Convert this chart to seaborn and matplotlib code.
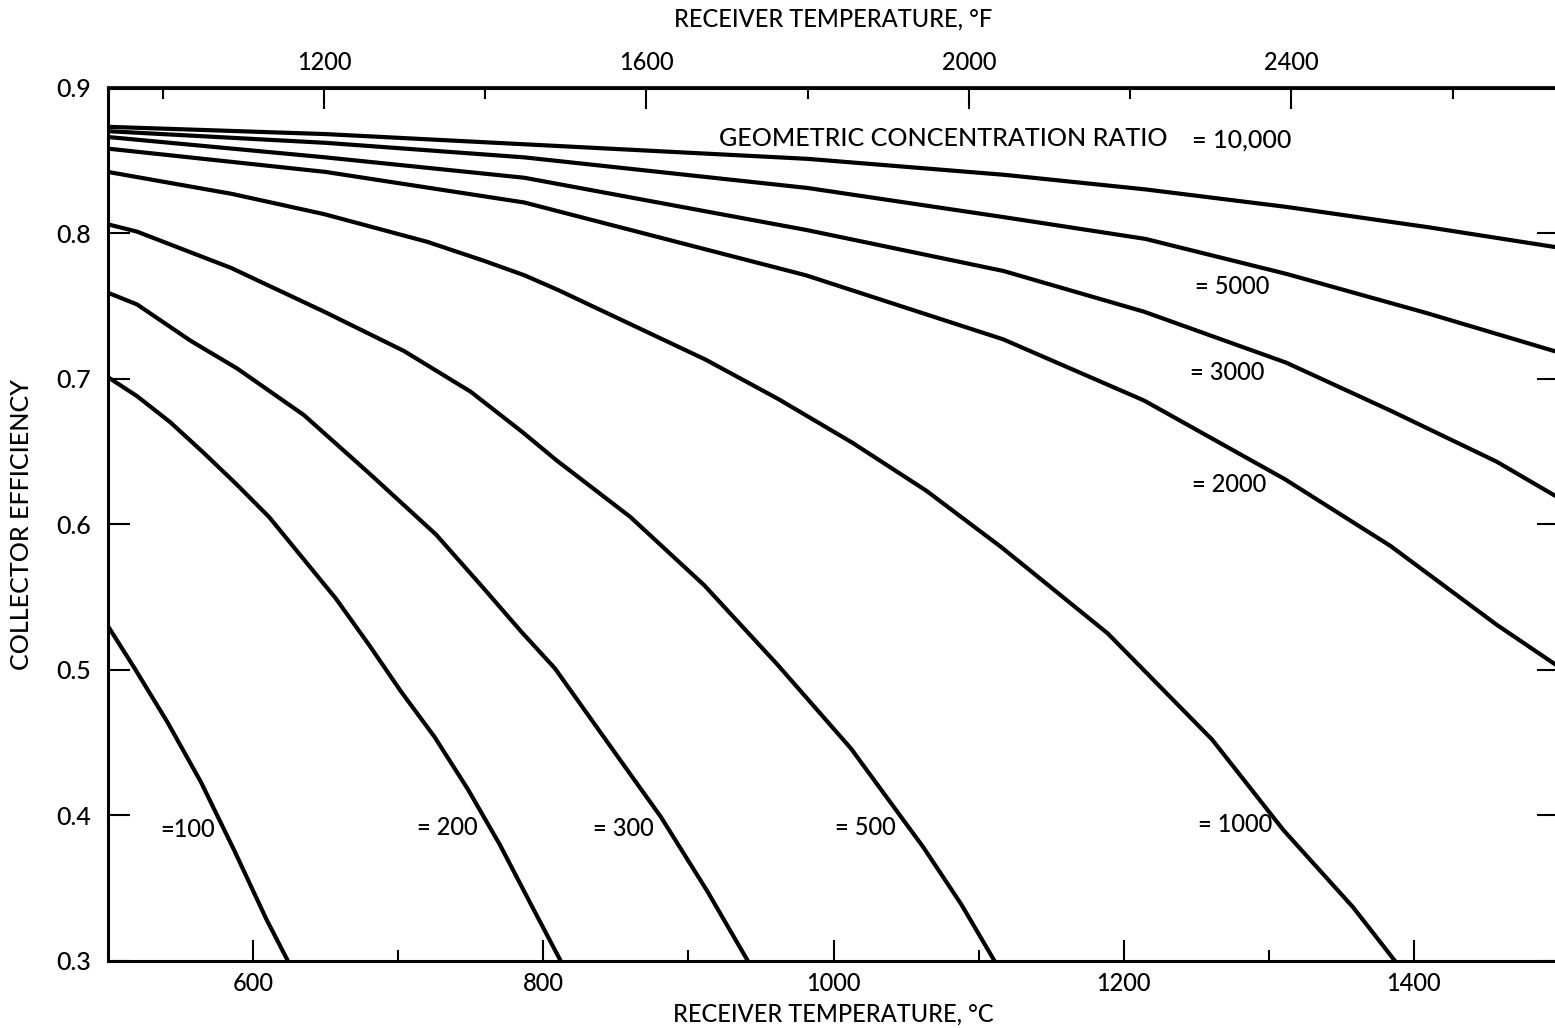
import matplotlib
matplotlib.use("Agg")
import matplotlib.pyplot as plt
from matplotlib.ticker import FixedLocator, NullFormatter
import pandas as pd
import seaborn as sns

# Collector efficiency against receiver temperature (deg C),
# one curve per geometric concentration ratio.
ratio_names = ["10000", "5000", "3000", "2000", "1000", "500", "300", "200", "100"]
ratio_labels = ["= 10,000", "= 5000", "= 3000", "= 2000", "= 1000",
                "= 500", "= 300", "= 200", "=100"]

temp_10000 = [500, 650, 787, 982, 1118, 1215, 1312, 1410, 1500]
eff_10000 = [0.873, 0.868, 0.861, 0.851, 0.840, 0.830, 0.818, 0.804, 0.790]

temp_5000 = [500, 650, 787, 982, 1117, 1215, 1312, 1409, 1500]
eff_5000 = [0.870, 0.862, 0.852, 0.831, 0.811, 0.796, 0.772, 0.745, 0.718]

temp_3000 = [500, 650, 787, 982, 1117, 1214, 1312, 1384, 1457, 1500]
eff_3000 = [0.866, 0.852, 0.838, 0.802, 0.774, 0.746, 0.711, 0.678, 0.643, 0.618]

temp_2000 = [500, 650, 787, 981, 1117, 1214, 1311, 1384, 1457, 1500]
eff_2000 = [0.858, 0.842, 0.821, 0.771, 0.727, 0.685, 0.631, 0.585, 0.531, 0.502]

temp_1000 = [500, 585, 649, 720, 759, 787, 810, 861, 912, 962, 1013, 1064, 1116,
             1189, 1261, 1310, 1358, 1387]
eff_1000 = [0.842, 0.827, 0.813, 0.794, 0.781, 0.771, 0.761, 0.737, 0.713, 0.686,
            0.656, 0.623, 0.584, 0.525, 0.452, 0.390, 0.337, 0.300]

temp_500 = [500, 520, 585, 649, 704, 750, 786, 809, 860, 911, 961, 1012, 1062,
            1088, 1111]
eff_500 = [0.806, 0.801, 0.776, 0.746, 0.719, 0.691, 0.663, 0.644, 0.605, 0.558,
           0.504, 0.446, 0.378, 0.339, 0.300]

temp_300 = [500, 520, 557, 589, 635, 680, 726, 758, 785, 808, 853, 881, 913, 941]
eff_300 = [0.759, 0.751, 0.726, 0.707, 0.675, 0.635, 0.593, 0.557, 0.526, 0.501,
           0.438, 0.399, 0.348, 0.300]

temp_200 = [500, 520, 543, 566, 588, 611, 634, 657, 680, 702, 725, 748, 770, 793, 812]
eff_200 = [0.701, 0.688, 0.670, 0.649, 0.628, 0.605, 0.577, 0.549, 0.517, 0.485,
           0.454, 0.418, 0.380, 0.336, 0.300]

temp_100 = [500, 519, 541, 564, 587, 609, 624]
eff_100 = [0.530, 0.500, 0.464, 0.423, 0.376, 0.329, 0.300]

curve_temps = [temp_10000, temp_5000, temp_3000, temp_2000, temp_1000,
               temp_500, temp_300, temp_200, temp_100]
curve_effs = [eff_10000, eff_5000, eff_3000, eff_2000, eff_1000,
              eff_500, eff_300, eff_200, eff_100]

# Axis ticks
eff_ticks = [0.3, 0.4, 0.5, 0.6, 0.7, 0.8, 0.9]
eff_tick_labels = ["0.3", "0.4", "0.5", "0.6", "0.7", "0.8", "0.9"]
degc_major = [600, 800, 1000, 1200, 1400]
degc_minor = [700, 900, 1100, 1300]
degf_major = [1200, 1600, 2000, 2400]
degf_minor = [1000, 1400, 1800, 2200, 2600]

rows = []
for name, t, e in zip(ratio_names, curve_temps, curve_effs):
    for ti, ei in zip(t, e):
        rows.append({"ratio": name, "temp": ti, "eff": ei})
df = pd.DataFrame(rows)

sns.set_style("ticks")
plt.rcParams["font.family"] = ["Lato", "DejaVu Sans"]
plt.rcParams["font.weight"] = "medium"
plt.rcParams["text.color"] = "black"
plt.rcParams["axes.labelcolor"] = "black"
plt.rcParams["axes.labelweight"] = "medium"
plt.rcParams["xtick.color"] = "black"
plt.rcParams["ytick.color"] = "black"

fig = plt.figure(figsize=(15.55, 10.28), dpi=100)
ax = fig.add_axes([108 / 1555, 67 / 1028, 1451 / 1555, 873.5 / 1028])

sns.lineplot(data=df, x="temp", y="eff", hue="ratio", hue_order=ratio_names,
             palette={n: "black" for n in ratio_names}, estimator=None,
             sort=False, legend=False, linewidth=3.0, ax=ax)
for line in ax.get_lines():
    line.set_solid_joinstyle("round")
    line.set_solid_capstyle("round")

ax.set_xlim(500, 1500)
ax.set_ylim(0.3, 0.9)

for side in ["left", "right", "top", "bottom"]:
    ax.spines[side].set_visible(True)
    ax.spines[side].set_linewidth(2.2)
    ax.spines[side].set_color("black")

# Bottom (deg C) ticks
ax.xaxis.set_major_locator(FixedLocator(degc_major))
ax.xaxis.set_minor_locator(FixedLocator(degc_minor))
ax.xaxis.set_minor_formatter(NullFormatter())
ax.tick_params(axis="x", which="major", direction="in", length=15, width=1.5,
               labelsize=17, pad=8, top=False)
ax.tick_params(axis="x", which="minor", direction="in", length=8, width=1.5,
               top=False)

# Efficiency ticks on both sides
ax.set_yticks(eff_ticks)
ax.set_yticklabels(eff_tick_labels)
ax.tick_params(axis="y", which="major", direction="in", length=16, width=1.5,
               labelsize=18, pad=12, right=True, left=True)

ax.set_xlabel("RECEIVER TEMPERATURE, °C", fontsize=17, labelpad=5)
ax.set_ylabel("COLLECTOR EFFICIENCY", fontsize=18, labelpad=17)

# Top (deg F) axis
secax = ax.secondary_xaxis("top", functions=(lambda c: c * 9 / 5 + 32,
                                              lambda f: (f - 32) * 5 / 9))
secax.xaxis.set_major_locator(FixedLocator(degf_major))
secax.xaxis.set_minor_locator(FixedLocator(degf_minor))
secax.xaxis.set_minor_formatter(NullFormatter())
secax.tick_params(which="major", direction="in", length=16, width=1.5,
                  labelsize=17, pad=10)
secax.tick_params(which="minor", direction="in", length=8.5, width=1.5)
secax.spines["top"].set_linewidth(2.2)
secax.set_xlabel("RECEIVER TEMPERATURE, °F", fontsize=17, labelpad=17)

# Curve annotations
ax.text(921, 0.865, "GEOMETRIC CONCENTRATION RATIO", fontsize=18,
        ha="left", va="center")
label_pos = [(1247, 0.864), (1249, 0.763), (1246, 0.704), (1247, 0.627),
             (1251, 0.394), (1001, 0.392), (834, 0.391), (713, 0.392), (536, 0.390)]
label_size = [18, 17, 17, 17, 17, 17, 17, 17, 17]
for text, (lx, ly), fs in zip(ratio_labels, label_pos, label_size):
    ax.text(lx, ly, text, fontsize=fs, ha="left", va="center")

fig.savefig("out.png", dpi=100)
